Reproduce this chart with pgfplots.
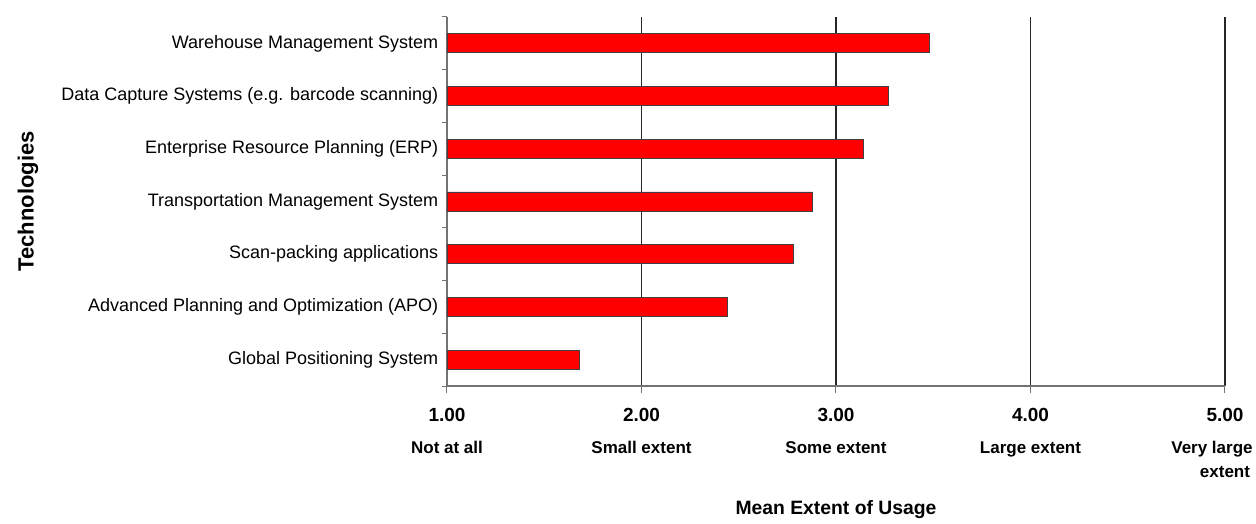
\documentclass[border=0pt]{standalone}
\usepackage{pgfplots}
\pgfplotsset{compat=1.18}
\usepackage{fontspec}
\setmainfont{Liberation Sans}
\newlength\px \setlength\px{0.75pt}
\newcommand\nm[1]{{\fontsize{14.25}{18}\selectfont #1}}
\begin{document}
\begin{tikzpicture}
\begin{axis}[
  name=ax,
  at={(0,0)}, anchor=south west,
  scale only axis,
  width=778\px, height=369\px,
  xmin=1, xmax=5, ymin=-0.5, ymax=6.5,
  axis x line*=bottom, axis y line*=left,
  axis line style={-, draw=black!55, line width=1.2\px},
  xbar, bar width=19\px,
  tick align=outside,
  major tick length=7\px,
  xtick={1,2,3,4,5},
  xticklabels={
    {\nm{1.00}\\[8\px]Not at all},
    {\nm{2.00}\\[8\px]Small extent},
    {\nm{3.00}\\[8\px]Some extent},
    {\nm{4.00}\\[8\px]Large extent},
    {\nm{5.00}\\[8\px]Very large\rule{26\px}{0pt}\\extent}},
  xticklabel style={align=center, font=\fontsize{12.75}{18}\selectfont\bfseries, yshift=-11\px},
  xtick style={draw=black!55, line width=1\px},
  xmajorgrids,
  grid style={draw=black!85, line width=1.4\px},
  ytick={0,...,6},
  yticklabels={
    Global Positioning System,
    Advanced Planning and Optimization (APO),
    Scan-packing applications,
    Transportation Management System,
    Enterprise Resource Planning (ERP),
    Data Capture Systems (e.g. barcode scanning),
    Warehouse Management System},
  ytick style={draw=none},
  yticklabel style={font=\fontsize{13.5}{16}\selectfont, xshift=3\px},
  extra y ticks={-0.5,0.5,...,6.5},
  extra y tick labels={},
  extra y tick style={ytick style={draw=black!55, line width=1\px}, major tick length=5\px},
  xlabel={Mean Extent of Usage},
  every axis x label/.style={at={(rel axis cs:0.5,0)}, anchor=center, yshift=-124\px, font=\fontsize{14.5}{16}\selectfont\bfseries},
  ylabel={Technologies},
  every axis y label/.style={at={(rel axis cs:0,0.5)}, rotate=90, anchor=center, yshift=419\px, font=\fontsize{16.5}{18}\selectfont\bfseries},
]
\addplot[fill=red, draw=black!75, line width=0.8\px] coordinates {
  (1.68,0) (2.44,1) (2.78,2) (2.88,3) (3.14,4) (3.27,5) (3.48,6)
};
\end{axis}
\pgfresetboundingbox
\path[use as bounding box] ([xshift=-447\px,yshift=-138\px]ax.south west) rectangle ([xshift=31\px,yshift=17\px]ax.north east);
\end{tikzpicture}
\end{document}
